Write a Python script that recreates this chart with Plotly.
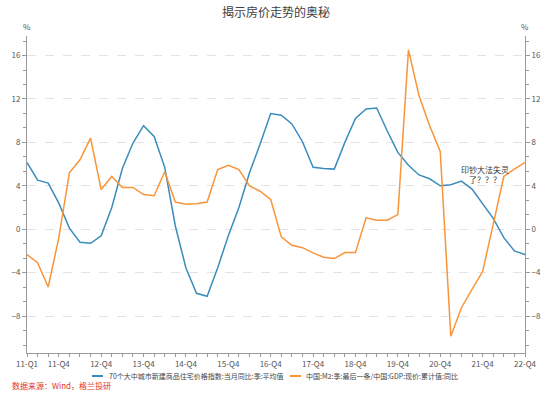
import plotly.graph_objects as go

quarters = [f"{y:02d}-Q{q}" for y in range(11, 23) for q in range(1, 5)]
tick_labels = ["11-Q1", "11-Q4", "12-Q4", "13-Q4", "14-Q4", "15-Q4", "16-Q4",
               "17-Q4", "18-Q4", "19-Q4", "20-Q4", "21-Q4", "22-Q4"]

house_price_yoy = [6.15, 4.52, 4.25, 2.4, 0.1, -1.2, -1.3, -0.6, 2.0, 5.6, 7.94, 9.54, 8.55,
                   5.7, 0.3, -3.57, -5.9, -6.18, -3.54, -0.6, 2.0, 5.2, 7.85, 10.65, 10.5,
                   9.7, 8.06, 5.7, 5.6, 5.54, 8.0, 10.2, 11.08, 11.17, 9.05, 7.08, 5.9,
                   5.0, 4.65, 4.0, 4.1, 4.43, 3.7, 2.3, 1.0, -0.77, -2.0, -2.34]
m2_minus_gdp = [-2.34, -3.08, -5.32, -0.8, 5.2, 6.4, 8.4, 3.66, 4.86, 3.85, 3.85, 3.2, 3.08,
                5.3, 2.5, 2.3, 2.35, 2.5, 5.5, 5.9, 5.5, 4.0, 3.5, 2.74, -0.7,
                -1.48, -1.7, -2.18, -2.58, -2.7, -2.15, -2.15, 1.05, 0.83, 0.83, 1.35, 16.52,
                12.3, 9.54, 7.17, -9.85, -7.23, -5.54, -3.9, 0.45, 4.86, 5.54, 6.15]

name_blue = "70个大中城市新建商品住宅价格指数:当月同比:季:平均值"
name_orange = "中国:M2:季:最后一条/中国:GDP:现价:累计值:同比"

FONT = "Noto Sans CJK SC, Microsoft YaHei, sans-serif"
BLUE = "#3a8cbd"
ORANGE = "#f8953a"
AXIS = "#9a9a9a"
TXT = "#555555"
YR = [-11.4, 17.8]

# plot box in pixels
L, R, T, B = 27, 525, 36, 353
def px(x):
    return (x - L) / (R - L)
def py(y):
    return (B - y) / (B - T)

fig = go.Figure()
fig.add_trace(go.Scatter(x=quarters, y=house_price_yoy, mode="lines", name=name_blue,
                         line=dict(color=BLUE, width=1.5)))
fig.add_trace(go.Scatter(x=quarters, y=m2_minus_gdp, mode="lines", name=name_orange,
                         line=dict(color=ORANGE, width=1.5), yaxis="y2"))

ticktext = [q if q in tick_labels else "" for q in quarters]

yax_common = dict(range=YR, tickmode="linear", tick0=0, dtick=4,
                  ticks="outside", ticklen=4, tickcolor=AXIS,
                  showline=True, linecolor=AXIS, linewidth=1,
                  tickfont=dict(family=FONT, size=8, color=TXT),
                  zeroline=False,
                  minor=dict(tickmode="linear", tick0=0, dtick=4/3, ticks="outside",
                             ticklen=3, tickcolor=AXIS, showgrid=False))

fig.update_layout(
    width=552, height=396,
    margin=dict(l=L, r=552 - R, t=T, b=396 - B, autoexpand=False),
    paper_bgcolor="white", plot_bgcolor="white",
    font=dict(family=FONT, size=8, color=TXT),
    title=dict(text="揭示房价走势的奥秘", x=0.5, xanchor="center", y=1 - 13/396,
               yanchor="middle", font=dict(family=FONT, size=12, color="#404040")),
    xaxis=dict(type="category", range=[0, 47], tickmode="array", tickvals=quarters,
               ticktext=ticktext, tickangle=0, ticks="outside", ticklen=3, tickcolor=AXIS,
               showline=True, linecolor=AXIS, linewidth=1, showgrid=False,
               tickfont=dict(family=FONT, size=8, color=TXT)),
    yaxis=dict(**yax_common, side="left", showgrid=True, gridcolor="#e3e3e3",
               griddash="dash", gridwidth=1),
    yaxis2=dict(**yax_common, side="right", overlaying="y", showgrid=False),
    showlegend=False,
)

# manual legend
legend_items = [(92, 103, 107, BLUE, name_blue), (290, 301, 304, ORANGE, name_orange)]
for x0, x1, xt, col, name in legend_items:
    fig.add_shape(type="line", xref="paper", yref="paper", x0=px(x0), x1=px(x1),
                  y0=py(376), y1=py(376), line=dict(color=col, width=2))
    fig.add_annotation(text=name, xref="paper", yref="paper", x=px(xt), y=py(376),
                       xanchor="left", yanchor="middle", showarrow=False,
                       font=dict(family=FONT, size=7, color="#444444"))

for xp in (0, 1):
    fig.add_annotation(text="%", xref="paper", yref="paper", x=xp, y=py(27),
                       xanchor="center", yanchor="middle", showarrow=False,
                       font=dict(family=FONT, size=8, color=TXT))
fig.add_annotation(text="印钞大法失灵<br>了？？？", xref="paper", yref="paper",
                   x=px(485), y=py(174), xanchor="center",
                   yanchor="middle", showarrow=False, align="center",
                   font=dict(family=FONT, size=8, color="#333333"))
fig.add_annotation(text="数据来源：Wind，格兰投研", xref="paper", yref="paper",
                   x=px(10), y=py(385), xanchor="left",
                   yanchor="middle", showarrow=False,
                   font=dict(family=FONT, size=8, color="#e3342b"))

fig.write_html("out.html", config={"displayModeBar": False},
               post_script="document.body.style.margin='0';document.body.style.overflow='hidden';")
